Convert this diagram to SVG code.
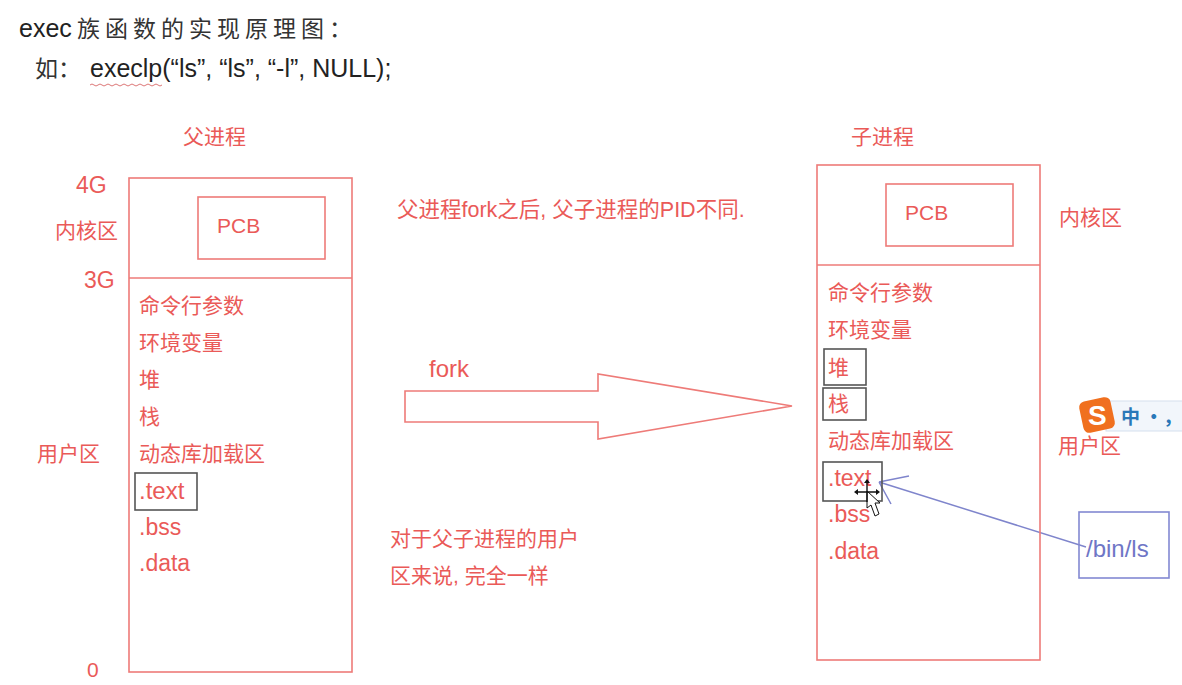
<svg xmlns="http://www.w3.org/2000/svg" width="1182" height="685" viewBox="0 0 1182 685">
<style>
.r{font:21px "Liberation Sans","Noto Sans CJK SC",sans-serif;fill:#ea5a58}
.l{font-size:23px}
.k{font:25px "Liberation Sans","Noto Sans CJK SC",sans-serif;fill:#222}
.s{font-family:"Noto Sans CJK SC",sans-serif;font-size:23px;fill:#333}
.b{fill:#fff;stroke:#ee7b78;stroke-width:1.6}
.d{fill:none;stroke:#555;stroke-width:1.6}
.p{fill:none;stroke:#7f85cc;stroke-width:1.5}
</style>
<rect width="1182" height="685" fill="#fff"/>
<text class="k" x="19" y="37">exec</text><text class="s" x="77" y="37" letter-spacing="5">族函数的实现原理图：</text>
<text class="s" x="35" y="77">如：</text>
<text class="k" x="90" y="77">execlp(“ls”, “ls”, “-l”, NULL);</text>
<path d="M90 85q2-2 4 0t4 0 4 0 4 0 4 0 4 0 4 0 4 0 4 0 4 0 4 0 4 0 4 0 4 0 4 0 4 0 4 0 4 0" fill="none" stroke="#d77" stroke-width="1"/>
<g id="parent">
<rect class="b" x="129" y="178" width="223" height="494"/>
<path class="b" d="M129 278H352"/>
<rect class="b" x="198" y="197" width="127" height="62"/>
<text class="r" x="183" y="144">父进程</text><text class="r l" x="76" y="193">4G</text><text class="r" x="55" y="238">内核区</text><text class="r l" x="84" y="288">3G</text><text class="r" x="217" y="233">PCB</text>
<text class="r" x="139" y="313">命令行参数</text><text class="r" x="139" y="350">环境变量</text><text class="r" x="139" y="387">堆</text><text class="r" x="139" y="424">栈</text><text class="r" x="139" y="461">动态库加载区</text><text class="r" x="37" y="461">用户区</text>
<rect class="d" x="135" y="473" width="62" height="37"/><text class="r l" x="139" y="499" style="font-size:24px">.text</text><text class="r l" x="139" y="535">.bss</text><text class="r l" x="139" y="571">.data</text><text class="r" x="87" y="677">0</text>
</g>
<g id="notes">
<text class="r" x="397" y="217" style="font-size:21.5px">父进程fork之后, 父子进程的PID不同.</text>
<text class="r" x="390" y="546">对于父子进程的用户</text><text class="r" x="390" y="583">区来说, 完全一样</text>
</g>
<g id="connectors">
<path class="b" d="M405 391H598V374L792 406 598 439V422H405Z"/>
<path class="p" d="M879 482L1086 547M879 482L909 476M879 482L891 504"/>
</g>
<text class="r" x="429" y="377" style="font-size:24px">fork</text>
<g id="child">
<rect class="b" x="817" y="165" width="223" height="495" style="fill:none"/>
<path class="b" d="M817 265H1040"/>
<rect class="b" x="886" y="184" width="127" height="62"/>
<text class="r" x="851" y="144">子进程</text><text class="r" x="905" y="220">PCB</text><text class="r" x="1059" y="225">内核区</text>
<text class="r" x="828" y="300">命令行参数</text><text class="r" x="828" y="337">环境变量</text>
<rect class="d" x="824" y="349" width="42" height="36"/><text class="r" x="828" y="375">堆</text>
<rect class="d" x="823" y="388" width="43" height="32"/><text class="r" x="828" y="411">栈</text>
<text class="r" x="828" y="448">动态库加载区</text><text class="r" x="1058" y="453">用户区</text>
<rect class="d" x="823" y="462" width="59" height="39"/><text class="r l" x="828" y="486">.text</text><text class="r l" x="828" y="522">.bss</text><text class="r l" x="828" y="559">.data</text>
</g>
<g id="binls">
<rect x="1079" y="512" width="90" height="66" fill="none" stroke="#8389d2" stroke-width="1.6"/>
<text x="1086" y="557" font-family="Liberation Sans,sans-serif" font-size="24" fill="#6f76c6">/bin/ls</text>
</g>
<g id="overlay">
<rect x="1106" y="401" width="80" height="30" fill="#f2f6fb" stroke="#d5e0ee"/>
<rect x="1081" y="399" width="32" height="32" rx="6" fill="#f0701f" transform="rotate(-12 1097 415)"/>
<text x="1088" y="425" font-family="Liberation Sans,sans-serif" font-size="28" font-weight="bold" fill="#fff">S</text>
<text x="1121" y="424" font-family="Noto Sans CJK SC,sans-serif" font-size="19" font-weight="bold" fill="#2a78b8">中 •，</text>
<path d="M867 491L867 508 871 505 875 516 879 514 875 503 880 503Z" fill="#fff" stroke="#111"/>
<path d="M856 492H878M867 481V502" stroke="#111" stroke-width="1.4" fill="none"/>
<path d="M867 479l-3 4h6zM854 492l4-3v6zM880 492l-4-3v6z" fill="#111"/>
</g>
</svg>
